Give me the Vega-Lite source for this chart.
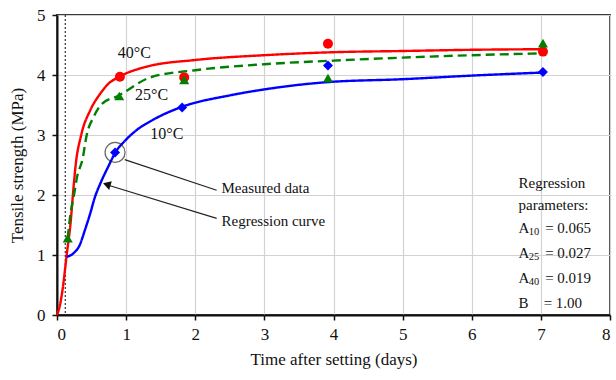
{
  "$schema": "https://vega.github.io/schema/vega-lite/v6.json",
  "width": 553,
  "height": 300,
  "autosize": {"type": "none"},
  "padding": {"left": 57, "top": 15, "right": 6, "bottom": 65},
  "background": "white",
  "config": {
    "font": "Liberation Serif",
    "view": {"stroke": "#3a3a3a", "strokeWidth": 1.8},
    "axis": {
      "labelFont": "Liberation Serif",
      "titleFont": "Liberation Serif",
      "labelFontSize": 17,
      "titleFontSize": 17,
      "titleFontWeight": "normal",
      "labelColor": "#111",
      "titleColor": "#111",
      "domainColor": "#111",
      "domainWidth": 2,
      "tickColor": "#111",
      "tickWidth": 1.5,
      "tickSize": 5,
      "gridColor": "#d2d2d2",
      "gridWidth": 1.2
    }
  },
  "datasets": {
    "curves": [
      {"series": "40°C", "t": 0, "s": 0},
      {"series": "40°C", "t": 0.04, "s": 0.15},
      {"series": "40°C", "t": 0.08, "s": 0.42},
      {"series": "40°C", "t": 0.14, "s": 1.0},
      {"series": "40°C", "t": 0.2, "s": 1.58},
      {"series": "40°C", "t": 0.23, "s": 2.0},
      {"series": "40°C", "t": 0.27, "s": 2.5},
      {"series": "40°C", "t": 0.35, "s": 3.0},
      {"series": "40°C", "t": 0.48, "s": 3.41},
      {"series": "40°C", "t": 0.62, "s": 3.68},
      {"series": "40°C", "t": 0.74, "s": 3.85},
      {"series": "40°C", "t": 0.9, "s": 3.97},
      {"series": "40°C", "t": 1.3, "s": 4.14},
      {"series": "40°C", "t": 2, "s": 4.25},
      {"series": "40°C", "t": 3, "s": 4.33},
      {"series": "40°C", "t": 4, "s": 4.38},
      {"series": "40°C", "t": 5, "s": 4.4},
      {"series": "40°C", "t": 6, "s": 4.42},
      {"series": "40°C", "t": 7, "s": 4.43},
      {"series": "25°C", "t": 0.155, "s": 1.28},
      {"series": "25°C", "t": 0.19, "s": 1.64},
      {"series": "25°C", "t": 0.25, "s": 2.03},
      {"series": "25°C", "t": 0.29, "s": 2.3},
      {"series": "25°C", "t": 0.37, "s": 2.6},
      {"series": "25°C", "t": 0.43, "s": 3.0},
      {"series": "25°C", "t": 0.53, "s": 3.3},
      {"series": "25°C", "t": 0.65, "s": 3.52},
      {"series": "25°C", "t": 0.88, "s": 3.65},
      {"series": "25°C", "t": 1.35, "s": 3.96},
      {"series": "25°C", "t": 2, "s": 4.08},
      {"series": "25°C", "t": 3, "s": 4.18},
      {"series": "25°C", "t": 4, "s": 4.24},
      {"series": "25°C", "t": 5, "s": 4.29},
      {"series": "25°C", "t": 6, "s": 4.33},
      {"series": "25°C", "t": 7, "s": 4.36},
      {"series": "10°C", "t": 0.14, "s": 0.97},
      {"series": "10°C", "t": 0.24, "s": 1.03},
      {"series": "10°C", "t": 0.33, "s": 1.17},
      {"series": "10°C", "t": 0.405, "s": 1.42},
      {"series": "10°C", "t": 0.48, "s": 1.69},
      {"series": "10°C", "t": 0.55, "s": 1.97},
      {"series": "10°C", "t": 0.63, "s": 2.2},
      {"series": "10°C", "t": 0.74, "s": 2.47},
      {"series": "10°C", "t": 0.85, "s": 2.72},
      {"series": "10°C", "t": 0.98, "s": 2.9},
      {"series": "10°C", "t": 1.15, "s": 3.08},
      {"series": "10°C", "t": 1.4, "s": 3.26},
      {"series": "10°C", "t": 1.81, "s": 3.47},
      {"series": "10°C", "t": 2.5, "s": 3.66},
      {"series": "10°C", "t": 3, "s": 3.76},
      {"series": "10°C", "t": 3.9, "s": 3.88},
      {"series": "10°C", "t": 5, "s": 3.93},
      {"series": "10°C", "t": 6, "s": 3.99},
      {"series": "10°C", "t": 7, "s": 4.04}
    ],
    "measured": [
      {"series": "40°C", "t": 0.91, "s": 3.97},
      {"series": "40°C", "t": 1.84, "s": 3.96},
      {"series": "40°C", "t": 3.92, "s": 4.52},
      {"series": "40°C", "t": 7.03, "s": 4.39},
      {"series": "25°C", "t": 0.155, "s": 1.28},
      {"series": "25°C", "t": 0.9, "s": 3.65},
      {"series": "25°C", "t": 1.84, "s": 3.92},
      {"series": "25°C", "t": 3.92, "s": 3.95},
      {"series": "25°C", "t": 7.03, "s": 4.53},
      {"series": "10°C", "t": 0.84, "s": 2.71},
      {"series": "10°C", "t": 1.81, "s": 3.46},
      {"series": "10°C", "t": 3.92, "s": 4.16},
      {"series": "10°C", "t": 7.03, "s": 4.05}
    ]
  },
  "layer": [
    {
      "data": {"values": [{"t": 0.12}]},
      "mark": {"type": "rule", "color": "#333", "strokeDash": [2, 2], "strokeWidth": 1.2},
      "encoding": {"x": {"field": "t", "type": "quantitative"}}
    },
    {
      "data": {"name": "curves"},
      "mark": {"type": "line", "interpolate": "monotone", "strokeWidth": 2.4},
      "encoding": {
        "x": {
          "field": "t", "type": "quantitative",
          "scale": {"domain": [0, 8], "nice": false},
          "axis": {"values": [0, 1, 2, 3, 4, 5, 6, 7, 8], "format": "d", "title": "Time after setting (days)", "labelPadding": 6, "titlePadding": 9}
        },
        "y": {
          "field": "s", "type": "quantitative",
          "scale": {"domain": [0, 5], "nice": false},
          "axis": {"values": [0, 1, 2, 3, 4, 5], "format": "d", "title": "Tensile strength (MPa)", "labelPadding": 7, "titlePadding": 10}
        },
        "color": {"field": "series", "type": "nominal", "scale": {"domain": ["10°C", "25°C", "40°C"], "range": ["#0000ff", "#008000", "#ff0000"]}, "legend": null},
        "strokeDash": {"field": "series", "type": "nominal", "scale": {"domain": ["10°C", "25°C", "40°C"], "range": [[1, 0], [9, 5], [1, 0]]}, "legend": null},
        "order": {"field": "t", "type": "quantitative"}
      }
    },
    {
      "data": {"name": "measured"},
      "mark": {"type": "point", "filled": true, "opacity": 1, "size": 100},
      "encoding": {
        "x": {"field": "t", "type": "quantitative"},
        "y": {"field": "s", "type": "quantitative"},
        "color": {"field": "series", "type": "nominal", "legend": null},
        "shape": {"field": "series", "type": "nominal", "scale": {"domain": ["10°C", "25°C", "40°C"], "range": ["diamond", "triangle-up", "circle"]}, "legend": null}
      }
    },
    {
      "data": {"values": [{"t": 0.84, "s": 2.71}]},
      "mark": {"type": "point", "filled": false, "color": "#222", "strokeWidth": 1.2, "size": 400, "shape": "circle"},
      "encoding": {"x": {"field": "t", "type": "quantitative"}, "y": {"field": "s", "type": "quantitative"}}
    },
    {
      "data": {"values": [
        {"t": 0.98, "s": 2.59, "t2": 2.31, "s2": 2.08},
        {"t": 0.72, "s": 2.17, "t2": 2.31, "s2": 1.61}
      ]},
      "mark": {"type": "rule", "color": "#222", "strokeWidth": 1.2},
      "encoding": {
        "x": {"field": "t", "type": "quantitative"},
        "y": {"field": "s", "type": "quantitative"},
        "x2": {"field": "t2"},
        "y2": {"field": "s2"}
      }
    },
    {
      "data": {"values": [{"t": 0.72, "s": 2.175}]},
      "mark": {"type": "point", "shape": "triangle-up", "filled": true, "color": "#111", "opacity": 1, "size": 80, "angle": 287},
      "encoding": {"x": {"field": "t", "type": "quantitative"}, "y": {"field": "s", "type": "quantitative"}}
    },
    {
      "data": {"values": [
        {"t": 0.88, "s": 4.37, "label": "40°C"},
        {"t": 1.13, "s": 3.67, "label": "25°C"},
        {"t": 1.35, "s": 3.01, "label": "10°C"}
      ]},
      "mark": {"type": "text", "align": "left", "baseline": "middle", "fontSize": 16, "color": "#111", "font": "Liberation Serif"},
      "encoding": {"x": {"field": "t", "type": "quantitative"}, "y": {"field": "s", "type": "quantitative"}, "text": {"field": "label"}}
    },
    {
      "data": {"values": [
        {"t": 2.38, "s": 2.11, "label": "Measured data"},
        {"t": 2.38, "s": 1.56, "label": "Regression curve"},
        {"t": 6.676, "s": 2.197, "label": "Regression"},
        {"t": 6.676, "s": 1.833, "label": "parameters:"},
        {"t": 6.676, "s": 1.451, "label": "A"},
        {"t": 6.676, "s": 1.036, "label": "A"},
        {"t": 6.676, "s": 0.622, "label": "A"},
        {"t": 6.676, "s": 0.207, "label": "B"},
        {"t": 7.062, "s": 1.451, "label": "= 0.065"},
        {"t": 7.062, "s": 1.036, "label": "= 0.027"},
        {"t": 7.062, "s": 0.622, "label": "= 0.019"},
        {"t": 7.04, "s": 0.207, "label": "= 1.00"}
      ]},
      "mark": {"type": "text", "align": "left", "baseline": "middle", "fontSize": 15, "color": "#111", "font": "Liberation Serif"},
      "encoding": {"x": {"field": "t", "type": "quantitative"}, "y": {"field": "s", "type": "quantitative"}, "text": {"field": "label"}}
    },
    {
      "data": {"values": [
        {"t": 6.823, "s": 1.451, "label": "10"},
        {"t": 6.823, "s": 1.036, "label": "25"},
        {"t": 6.823, "s": 0.622, "label": "40"}
      ]},
      "mark": {"type": "text", "align": "left", "baseline": "middle", "fontSize": 10.5, "dy": 4, "color": "#111", "font": "Liberation Serif"},
      "encoding": {"x": {"field": "t", "type": "quantitative"}, "y": {"field": "s", "type": "quantitative"}, "text": {"field": "label"}}
    }
  ]
}
